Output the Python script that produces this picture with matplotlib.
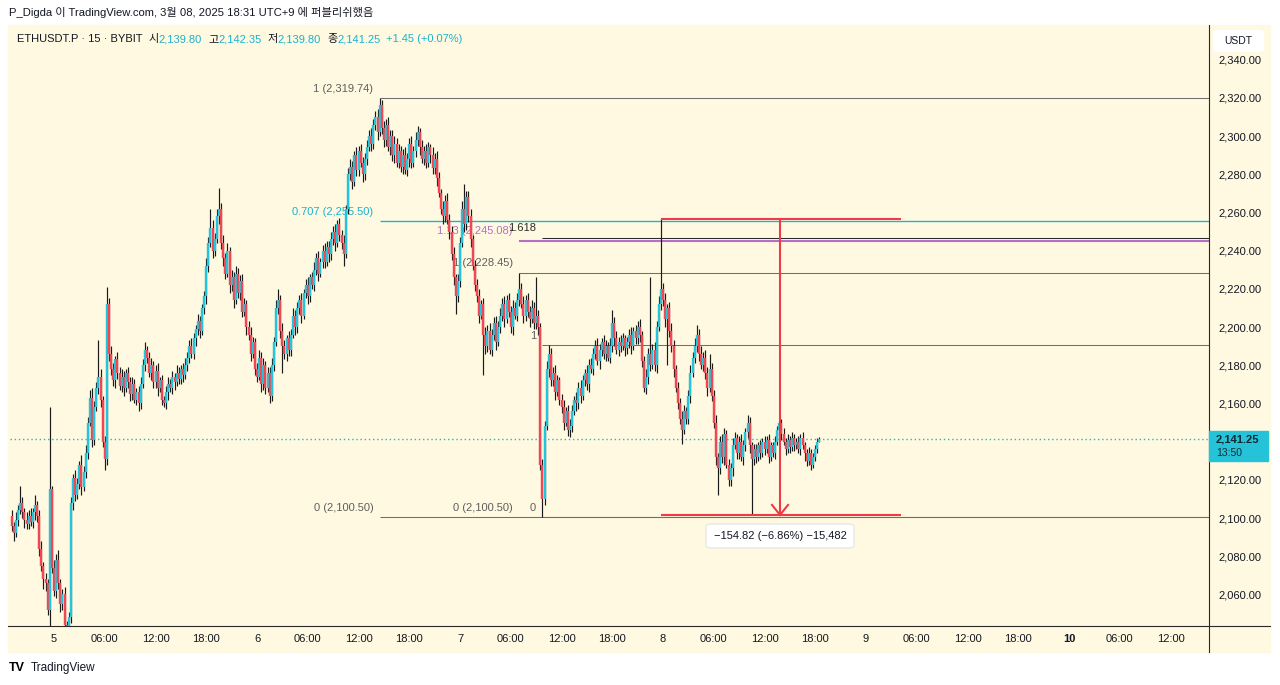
import matplotlib
matplotlib.use('Agg')
import matplotlib.pyplot as plt
import matplotlib.dates as mdates
from matplotlib.patches import Rectangle, FancyBboxPatch
from matplotlib.lines import Line2D
import pandas as pd

# 15분봉 ETHUSDT.P (BYBIT), 2025-03-04 19:00 부터
first_open = 2101.0
closes = [
    2096, 2092, 2099, 2104,   # 4일 19시
    2108, 2103, 2099, 2097,
    2101, 2098, 2103, 2107,
    2101, 2084, 2075, 2068,
    2066, 2052, 2115, 2074,
    2062, 2078, 2066, 2055,   # 5일 00시
    2060, 2044, 2038, 2048,
    2108, 2121, 2112, 2118,
    2128, 2116, 2124, 2134,
    2150, 2163, 2141, 2158,
    2168, 2174, 2162, 2140,
    2131, 2212, 2186, 2178,
    2172, 2183, 2176, 2169,
    2174, 2168, 2176, 2171,
    2165, 2170, 2162, 2166,
    2160, 2170, 2180, 2188,
    2184, 2176, 2180, 2171,
    2177, 2168, 2172, 2162,
    2160, 2166, 2170, 2168,
    2174, 2171, 2176, 2173,
    2178, 2175, 2180, 2184,
    2190, 2186, 2194, 2199,
    2203, 2198, 2210, 2216,
    2232, 2244, 2252, 2240,
    2246, 2258, 2262, 2244,
    2236, 2228, 2240, 2222,
    2226, 2214, 2228, 2218,
    2224, 2208, 2212, 2200,
    2196, 2186, 2192, 2178,
    2174, 2184, 2170, 2180,   # 6일 00시
    2168, 2176, 2164, 2180,
    2192, 2210, 2214, 2198,
    2190, 2186, 2194, 2188,
    2196, 2206, 2200, 2210,
    2214, 2206, 2218, 2222,
    2216, 2226, 2222, 2230,
    2236, 2228, 2234, 2240,
    2234, 2242, 2238, 2246,
    2250, 2244, 2254, 2248,
    2244, 2238, 2262, 2280,
    2284, 2276, 2290, 2282,
    2292, 2286, 2280, 2288,
    2294, 2300, 2296, 2306,
    2310, 2302, 2316, 2304,
    2298, 2306, 2294, 2300,
    2290, 2296, 2286, 2292,
    2284, 2290, 2282, 2288,
    2296, 2286, 2292, 2298,
    2302, 2294, 2288, 2292,
    2286, 2294, 2290, 2283,
    2288, 2278, 2270, 2262,
    2258, 2266, 2256, 2250,
    2238, 2226, 2216, 2224,
    2244, 2262, 2254, 2268,   # 7일 00시
    2258, 2246, 2232, 2222,
    2216, 2206, 2212, 2196,
    2190, 2198, 2188, 2196,
    2202, 2192, 2200, 2206,
    2212, 2204, 2214, 2208,
    2200, 2210, 2206, 2214,
    2220, 2212, 2206, 2214,
    2208, 2204, 2210, 2202,
    2206, 2200, 2128, 2110,
    2148, 2178, 2186, 2172,
    2176, 2166, 2172, 2162,
    2158, 2150, 2156, 2146,
    2148, 2156, 2162, 2160,
    2168, 2164, 2172, 2176,
    2170, 2180, 2178, 2186,
    2190, 2182, 2188, 2192,
    2186, 2190, 2184, 2190,
    2202, 2194, 2188, 2192,
    2190, 2194, 2189, 2192,
    2196, 2190, 2198, 2194,
    2200, 2196, 2182, 2168,
    2174, 2186, 2180, 2188,
    2180, 2200, 2212, 2220,
    2214, 2204, 2210, 2198,   # 8일 00시
    2190, 2178, 2168, 2160,
    2152, 2146, 2156, 2152,
    2164, 2176, 2184, 2190,
    2196, 2186, 2180, 2184,
    2176, 2168, 2178, 2164,
    2150, 2132, 2126, 2140,
    2132, 2144, 2128, 2120,
    2126, 2138, 2142, 2134,
    2140, 2132, 2138, 2145,
    2150, 2138, 2131, 2136,
    2132, 2138, 2134, 2140,
    2136, 2141, 2132, 2138,
    2134, 2140, 2146, 2150,
    2144, 2140, 2136, 2141,
    2137, 2142, 2138, 2140,
    2136, 2142, 2138, 2134,
    2130, 2134, 2128, 2132,
    2136, 2139.8, 2141.25,
]
# 윗꼬리 / 아랫꼬리 길이
up_wick = [
    3, 2, 4, 3,  9, 3, 2, 4,  3, 4, 2, 5,  2, 3, 4, 2,  3, 2, 43, 2,
    4, 3, 5, 2,  3, 4, 2, 3,  3, 2, 4, 3,  2, 5, 3, 4,  3, 4, 5, 3,
    3, 19, 4, 2,  3, 9, 3, 4,  3, 2, 4, 3,  4, 3, 2, 3,  3, 4, 3, 2,
    3, 4, 3, 4,  2, 3, 4, 2,  3, 4, 2, 3,  2, 3, 4, 3,  3, 2, 4, 3,
    2, 3, 4, 3,  3, 4, 3, 2,  4, 3, 2, 3,  4, 3, 10, 4,  3, 4, 11, 3,
    4, 3, 4, 2,  4, 3, 4, 3,  3, 4, 3, 2,  3, 4, 3, 2,  3, 4, 3, 4,
    2, 3, 3, 4,  3, 4, 6, 3,  4, 3, 2, 4,  3, 4, 3, 3,  3, 4, 2, 3,
    4, 2, 3, 4,  3, 4, 2, 3,  4, 3, 3, 4,  3, 4, 2, 3,  3, 4, 2, 3,
    4, 3, 2, 4,  3, 4, 3, 3,  4, 3, 4, 3,  3, 4, 3.74, 3,  4, 3, 4, 3,
    3, 4, 3, 4,  3, 3, 4, 3,  3, 4, 3, 4,  3, 2, 4, 3,  4, 3, 2, 4,
    3, 4, 3, 2,  4, 3, 4, 3,  3, 4, 2, 4,  3, 4, 13, 3,  3, 4, 2, 3,
    3, 4, 2, 3,  4, 3, 4, 3,  3, 4, 3, 4,  3, 4, 3, 4,  3, 4, 3, 4,
    8.45, 3, 4, 3,  4, 3, 4, 3,  20, 3, 2, 3,  3, 4, 4.6, 3,  3, 4, 3, 2,
    3, 4, 2, 3,  4, 3, 2, 4,  3, 4, 3, 2,  4, 3, 4, 3,  3, 4, 3, 2,
    4, 3, 2, 4,  7, 3, 4, 3,  4, 3, 2, 3,  3, 4, 2, 3,  3, 4, 2, 3,
    4, 3, 40, 3,  4, 3, 4, 36.4,  3, 4, 2, 3,  4, 3, 2, 3,  3, 4, 3, 2,
    3, 4, 3, 4,  5, 3, 4, 3,  4, 3, 8, 3,  3, 4, 2, 3,  4, 3, 2, 3,
    3, 4, 3, 2,  3, 4, 3, 2,  4, 3, 2, 3,  3, 2, 3, 2,  3, 2, 3, 2,
    2, 3, 2, 1,  2, 3, 2, 3,  2, 3, 2, 2,  3, 2, 3, 2,  2, 3, 2, 2,
    2, 2, 1.1,
]
down_wick = [
    3, 4, 2, 3,  2, 3, 4, 3,  3, 2, 3, 4,  3, 4, 3, 5,  4, 3, 12, 3,
    3, 4, 3, 4,  3, 4, 6, 3,  3, 4, 3, 2,  3, 4, 2, 3,  3, 2, 4, 3,
    2, 3, 4, 3,  6, 3, 4, 3,  3, 4, 3, 2,  3, 4, 2, 3,  4, 3, 2, 3,
    4, 3, 2, 3,  3, 2, 4, 3,  3, 4, 2, 3,  2, 3, 4, 2,  3, 4, 2, 3,
    3, 4, 2, 3,  3, 2, 3, 4,  3, 4, 2, 3,  4, 3, 2, 4,  3, 2, 4, 3,
    4, 3, 2, 4,  3, 4, 2, 3,  4, 3, 2, 4,  3, 4, 2, 3,  3, 2, 4, 3,
    3, 2, 4, 3,  3, 2, 3, 4,  14, 3, 4, 3,  3, 2, 4, 3,  3, 4, 2, 3,
    4, 3, 2, 3,  3, 4, 2, 3,  3, 2, 4, 3,  3, 4, 2, 3,  3, 6, 2, 3,
    3, 4, 2, 3,  3, 2, 4, 3,  3, 2, 4, 3,  3, 4, 2, 3,  4, 3, 2, 4,
    3, 4, 2, 3,  3, 4, 2, 3,  4, 3, 2, 3,  3, 4, 2, 3,  3, 2, 4, 3,
    3, 4, 2, 3,  4, 3, 2, 4,  3, 4, 9.4, 3,  3, 2, 4, 3,  3, 4, 2, 3,
    3, 4, 2, 21,  4, 3, 2, 3,  3, 4, 2, 3,  3, 4, 2, 3,  3, 4, 2, 3,
    3, 2, 4, 3,  3, 4, 2, 3,  3, 4, 3, 9.5,  3, 2, 4, 3,  3, 4, 2, 3,
    3, 4, 2, 3,  3.5, 3, 2, 4,  3, 4, 2, 3,  3, 4, 2, 3,  3, 2, 4, 3,
    3, 4, 2, 3,  3, 4, 2, 3,  3, 2, 4, 3,  3, 4, 2, 3,  3, 4, 3, 2,
    3, 4, 3, 2,  3, 4, 2, 3,  3, 4, 24, 3,  3, 4, 2, 3,  3, 7, 2, 3,
    3, 4, 2, 3,  3, 4, 2, 3,  3, 4, 2, 3,  3, 4, 14, 3,  3, 4, 2, 3,
    3, 4, 2, 3,  3, 2, 4, 3,  3, 4, 29.4, 3,  3, 2, 3, 2,  3, 2, 3, 2,
    2, 3, 2, 3,  3, 2, 3, 2,  3, 2, 3, 2,  2, 3, 2, 4,  3, 2, 3, 2,
    2, 2, 0,
]

# 피보나치 되돌림 (시작 시각, 라벨, 가격, 색, 굵기)
fib_levels = [
    ('2025-03-06 14:30', '1 (2,319.74)', 2319.74, '#6E6E6E', 1.0),
    ('2025-03-06 14:30', '0.707 (2,255.50)', 2255.50, '#18B4D0', 1.3),
    ('2025-03-06 14:30', '0 (2,100.50)', 2100.50, '#6E6E6E', 1.0),
    ('2025-03-07 07:00', '1 (2,228.45)', 2228.45, '#6E6E6E', 1.0),
    ('2025-03-07 07:00', '1.13 (2,245.08)', 2245.08, '#B66FC2', 2.0),
    ('2025-03-07 07:00', '0 (2,100.50)', 2100.50, '#6E6E6E', 1.0),
    ('2025-03-07 09:45', '1', 2190.60, '#6E6E6E', 1.0),
    ('2025-03-07 09:45', '1.618', 2246.80, '#2A2A2A', 1.0),
    ('2025-03-07 09:45', '0', 2100.50, '#6E6E6E', 1.0),
]
measure_top, measure_bottom = 2256.42, 2101.60
measure_start, measure_end, measure_arrow = '2025-03-07 23:45', '2025-03-09 04:08', '2025-03-08 13:50'
last_price = 2141.25
price_ticks = [2060, 2080, 2100, 2120, 2160, 2180, 2200, 2220, 2240, 2260, 2280, 2300, 2320, 2340]

W, H = 1280, 685
BG = '#FFF9E1'
UP = '#26C4DA'
DOWN = '#EF4753'
CYAN_TXT = '#1CB2CC'
TXT = '#131722'
RED = '#F03A47'
FAM = ['Liberation Sans', 'Noto Sans CJK KR']

fig = plt.figure(figsize=(W / 100, H / 100), dpi=100)
fig.patch.set_facecolor('white')


def fx(x):
    return x / W


def fy(y):
    return 1 - y / H


# 차트 배경 (축 뒤에 깔림)
fig.patches.append(Rectangle((fx(8), fy(652)), fx(1270 - 8), (652 - 25) / H,
                             transform=fig.transFigure, color=BG, zorder=-10))

ax = fig.add_axes([fx(10), fy(626), fx(1209 - 10), (626 - 25) / H])
ax.set_facecolor(BG)
for s in ax.spines.values():
    s.set_visible(False)

times = pd.date_range('2025-03-04 19:00', periods=len(closes), freq='15min')
xs = mdates.date2num(times)
opens = [first_open] + closes[:-1]
highs = [max(o, c) + u for o, c, u in zip(opens, closes, up_wick)]
lows = [min(o, c) - d for o, c, d in zip(opens, closes, down_wick)]
body_lo = [min(o, c) for o, c in zip(opens, closes)]
body_hi = [max(max(o, c), min(o, c) + 0.8) for o, c in zip(opens, closes)]
cols = [UP if c >= o else DOWN for o, c in zip(opens, closes)]

ax.vlines(xs, lows, highs, color='#1A1A1A', lw=0.85, zorder=3)
ax.vlines(xs, body_lo, body_hi, colors=cols, lw=1.75, zorder=4)

day0 = mdates.date2num(pd.Timestamp('2025-03-05'))
x_left = day0 - 44 / 203
x_right = day0 + 1155 / 203
ax.set_xlim(x_left, x_right)
ax.set_ylim(2100 - 108 / 1.91, 2100 + 493 / 1.91)

# 피보나치 선과 라벨
for start, label, price, col, lw in fib_levels:
    xs0 = mdates.date2num(pd.Timestamp(start))
    ax.hlines(price, xs0, x_right, color=col, lw=lw * 0.75, zorder=2)
    ax.annotate(label, (xs0, price), xytext=(-4.5, 3.2), textcoords='offset points',
                ha='right', va='bottom', fontsize=8, color=col if col != '#6E6E6E' else '#5E5E5E',
                family=FAM, zorder=2)

# 현재가 점선
ax.axhline(last_price, color='#1EB8D2', lw=1.0, ls=(0, (1, 2)), zorder=1)

# 측정 도구
m0 = mdates.date2num(pd.Timestamp(measure_start))
m1 = mdates.date2num(pd.Timestamp(measure_end))
ma = mdates.date2num(pd.Timestamp(measure_arrow))
ax.hlines([measure_top, measure_bottom], m0, m1, color=RED, lw=1.5, zorder=5)
ax.vlines(ma, measure_bottom, measure_top, color=RED, lw=1.5, zorder=5)
dx = 8 / 203
dy = 10 / 1.91
ax.plot([ma - dx, ma, ma + dx], [measure_bottom + dy, measure_bottom, measure_bottom + dy],
        color=RED, lw=1.5, zorder=5, solid_joinstyle='miter')
fig.patches.append(FancyBboxPatch((fx(706), fy(548)), fx(148), 24 / H,
                                  boxstyle='round,pad=0,rounding_size=0.004',
                                  transform=fig.transFigure, facecolor='white',
                                  edgecolor='#E4E4E4', lw=0.8, zorder=6))
fig.text(fx(780), fy(536), '\u2212154.82 (\u22126.86%) \u221215,482', ha='center', va='center',
         fontsize=8, color=TXT, family=FAM, zorder=7)

# 시간축
tick_times = pd.date_range('2025-03-05', '2025-03-10 12:00', freq='6h')
tick_labels = [str(t.day) if t.hour == 0 else t.strftime('%H:%M') for t in tick_times]
ax.set_xticks(mdates.date2num(tick_times))
ax.set_xticklabels(tick_labels, fontsize=8, color=TXT, family=FAM)
ax.tick_params(axis='x', length=0, pad=6)
for t in ax.get_xticklabels():
    if t.get_text() == '10':
        t.set_fontweight('bold')

# 가격축
ax.yaxis.tick_right()
ax.set_yticks(price_ticks)
ax.set_yticklabels([f'{p:,.2f}' for p in price_ticks], fontsize=8, color=TXT, family=FAM)
ax.tick_params(axis='y', length=0, pad=6.5)

# 축 경계선
fig.lines.append(Line2D([fx(8), fx(1270)], [fy(626), fy(626)], transform=fig.transFigure,
                        color='#2A2A2A', lw=0.8))
fig.lines.append(Line2D([fx(1209), fx(1209)], [fy(25), fy(652)], transform=fig.transFigure,
                        color='#2A2A2A', lw=0.8))

# 현재가 라벨
fig.patches.append(Rectangle((fx(1209), fy(461)), fx(59), 30 / H, transform=fig.transFigure,
                             color='#26C2D8', zorder=6))
fig.text(fx(1216), fy(439), f'{last_price:,.2f}', fontsize=8, color='#0E2A36', family=FAM,
         va='center', fontweight='bold', zorder=7)
fig.text(fx(1216), fy(453), '13:50', fontsize=7.5, color='#0E2A36', family=FAM,
         va='center', zorder=7)

# USDT 라벨
fig.patches.append(FancyBboxPatch((fx(1213), fy(52)), fx(51), 22 / H,
                                  boxstyle='round,pad=0,rounding_size=0.004',
                                  transform=fig.transFigure, facecolor='white',
                                  edgecolor='none', zorder=6))
fig.text(fx(1238), fy(41), 'USDT', fontsize=7.5, color=TXT, family=FAM,
         ha='center', va='center', zorder=7)

# 헤더
fig.text(fx(9), fy(13), 'P_Digda 이 TradingView.com, 3월 08, 2025 18:31 UTC+9 에 퍼블리쉬했음',
         fontsize=8.1, color=TXT, family=FAM, va='center')

renderer = fig.canvas.get_renderer()
x = 17
parts = [('ETHUSDT.P · 15 · BYBIT', TXT, 6), ('시', TXT, 0), ('2,139.80', CYAN_TXT, 6),
         ('고', TXT, 0), ('2,142.35', CYAN_TXT, 6), ('저', TXT, 0), ('2,139.80', CYAN_TXT, 6),
         ('종', TXT, 0), ('2,141.25', CYAN_TXT, 6), ('+1.45 (+0.07%)', CYAN_TXT, 0)]
for s, col, gap in parts:
    t = fig.text(fx(x), fy(39), s, fontsize=8, color=col, family=FAM, va='center', zorder=7)
    x += t.get_window_extent(renderer).width + gap

# 로고
fig.text(fx(9), fy(668), 'TV', fontsize=9, color='black', fontweight='bold', family=FAM, va='center')
fig.text(fx(31), fy(668), 'TradingView', fontsize=8.5, color=TXT, family=FAM, va='center')

fig.savefig('out.png', dpi=100, facecolor='white')
